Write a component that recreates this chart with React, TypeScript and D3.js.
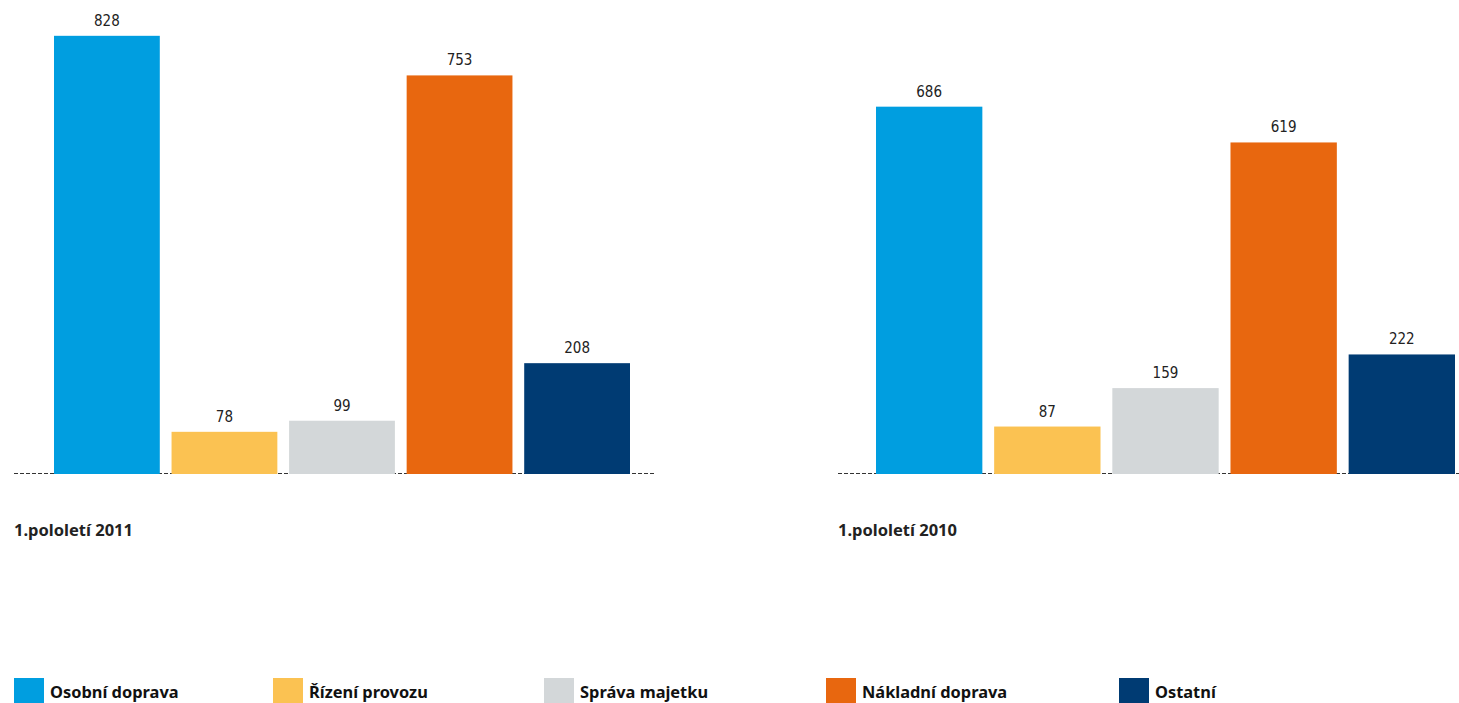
import React from 'react';
import * as d3 from 'd3';

const categories = ['Osobní doprava', 'Řízení provozu', 'Správa majetku', 'Nákladní doprava', 'Ostatní'];
const colors = ['#009ee0', '#fbc252', '#d3d7d9', '#e8670f', '#003b73'];
const values2011 = [828, 78, 99, 753, 208];
const values2010 = [686, 87, 159, 619, 222];
const periodLabels = ['1.pololetí 2011', '1.pololetí 2010'];

const W = 1459;
const H = 703;
const baseY = 473;
const labelFont = "'Liberation Sans Narrow', 'DejaVu Sans Condensed', sans-serif";
const boldFont = "'Noto Sans', 'Open Sans', sans-serif";

const panels = [
  { values: values2011, label: periodLabels[0], lineX: [14, 655], barX: [54, 630], pxMax: 528 },
  { values: values2010, label: periodLabels[1], lineX: [838, 1459], barX: [876, 1455], pxMax: 534 },
];

const legendX = [14, 273, 544, 826, 1119];

export default function App() {
  return (
    <svg width={W} height={H} style={{ position: 'absolute', left: 0, top: 0, background: '#fff' }}>
      {panels.map((p, pi) => {
        const x = d3.scaleBand<string>().domain(categories).range(p.barX as [number, number]).paddingInner(0.1);
        const y = d3.scaleLinear().domain([0, 1000]).range([baseY, baseY - p.pxMax]);
        return (
          <g key={pi}>
            <line x1={p.lineX[0]} x2={p.lineX[1]} y1={baseY + 0.5} y2={baseY + 0.5}
              stroke="#333" strokeWidth={1} strokeDasharray="4,2" />
            {categories.map((c, i) => (
              <g key={c}>
                <rect x={x(c)} y={y(p.values[i])} width={x.bandwidth()} height={baseY + 1 - y(p.values[i])} fill={colors[i]} />
                <text x={(x(c) || 0) + x.bandwidth() / 2} y={y(p.values[i]) - 10} textAnchor="middle"
                  fontFamily={labelFont} fontSize={15} fill="#222">{p.values[i]}</text>
              </g>
            ))}
            <text x={p.lineX[0]} y={536} fontFamily={boldFont} fontWeight="bold" fontSize={16.5} fill="#222">{p.label}</text>
          </g>
        );
      })}
      {categories.map((c, i) => (
        <g key={c}>
          <rect x={legendX[i]} y={678} width={30} height={30} fill={colors[i]} />
          <text x={legendX[i] + 36} y={698} fontFamily={boldFont} fontWeight="bold" fontSize={16.4} fill="#111">{c}</text>
        </g>
      ))}
    </svg>
  );
}
